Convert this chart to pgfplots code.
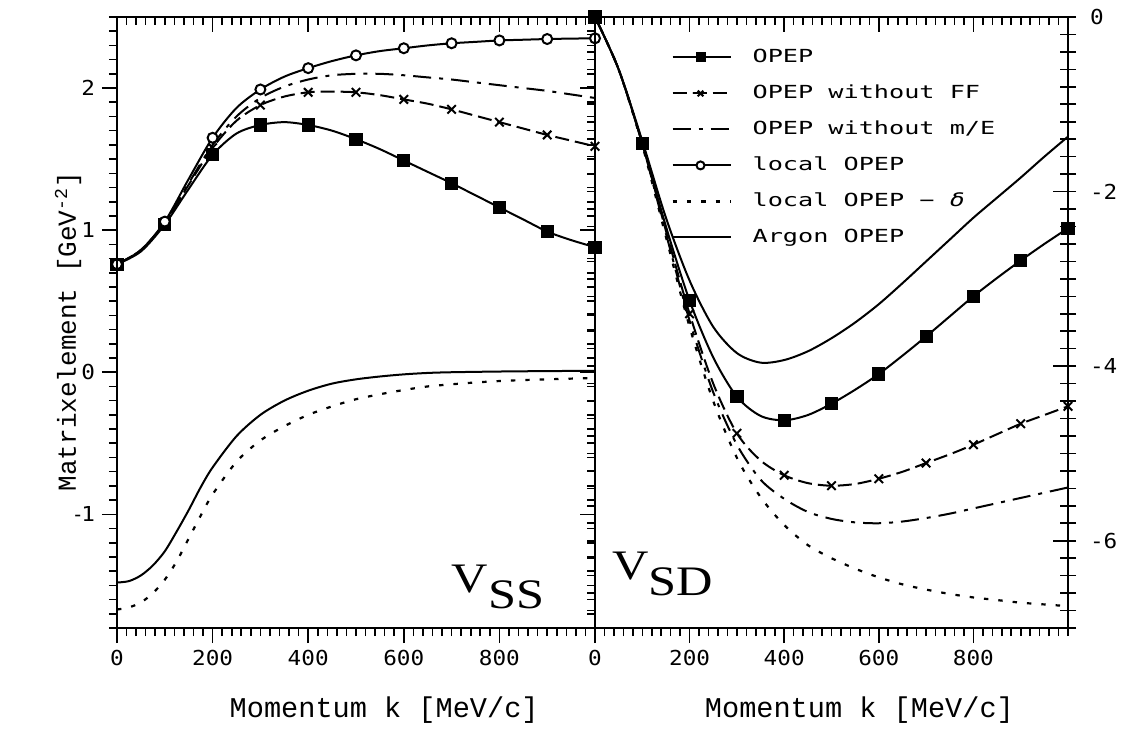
\documentclass[border=0pt]{standalone}
\usepackage{pgfplots}
\pgfplotsset{compat=1.18}
\usepackage{fontspec}
\setmainfont{Liberation Sans}
\newfontfamily\tickfont[FakeStretch=1.1]{DejaVu Sans Mono}
\newfontfamily\legfont[FakeStretch=1.4]{DejaVu Sans Mono}
\newfontfamily\labfont{Liberation Mono}
\newfontfamily\narrowsans{Liberation Sans}
\newfontfamily\vfont[FakeStretch=1.2]{Liberation Serif}
\begin{document}
\begin{tikzpicture}
\path[use as bounding box] (-58.5pt,-50.5pt) rectangle (504.5pt,314pt);
\pgfplotsset{
 common/.style={scale only axis, height=305.5pt, xmin=0, xmax=1000,
   axis line style={line width=1pt}, tick style={line width=0.8pt, black},
   major tick length=7.5pt, minor tick length=4pt,
   xtick={0,200,400,600,800}, minor xtick={0,20,...,1000},
   ticklabel style={font=\tickfont\fontsize{10.3}{12}\selectfont},
   clip=false},
 leftax/.style={common, width=239pt, ymin=-1.8, ymax=2.5, ytick={-1,0,1,2},
   minor ytick={-1.8,-1.7,...,2.45}, at={(0pt,0pt)}, anchor=south west},
 rightax/.style={common, width=236.5pt, ymin=-7, ymax=0, ytick={-6,-4,-2,0},
   minor ytick={-7,-6.8,...,0.05}, at={(239pt,0pt)}, anchor=south west},
 opep/.style={black, line width=1pt, smooth, mark=square*, mark size=2.8pt, mark repeat=2},
 ff/.style={black, line width=1pt, smooth, dash pattern=on 7pt off 3pt, mark=x, mark size=3pt, mark repeat=2, mark options={solid}},
 me/.style={black, line width=1pt, smooth, dash pattern=on 9pt off 4pt on 2pt off 4pt},
 loc/.style={black, line width=1pt, smooth, mark=*, mark size=2.5pt, mark repeat=2, mark options={solid, fill=white}},
 del/.style={black, line width=1.1pt, smooth, dash pattern=on 2.2pt off 5pt},
 arg/.style={black, line width=1pt, smooth},
}
% ---------------- left panel V_SS ----------------
\begin{axis}[leftax, tick align=outside, xtick pos=lower, ytick pos=lower,
  xticklabels={0,200,400,600,800}, yticklabels={{\narrowsans-}1,0,1,2},
  xlabel={Momentum k [MeV/c]}, ylabel={Matrixelement [GeV\textsuperscript{-2}]},
  xlabel style={font=\labfont\fontsize{14.3}{17}\selectfont, at={(axis description cs:0.559,-0.134)}, anchor=center},
  ylabel style={font=\labfont\fontsize{13}{16}\selectfont, at={(axis description cs:-0.1025,0.485)}, anchor=center}]
\addplot[opep] coordinates {(0,0.76)(50,0.85)(100,1.04)(150,1.29)(200,1.53)(250,1.68)(300,1.74)(350,1.76)(400,1.74)(450,1.70)(500,1.64)(550,1.57)(600,1.49)(650,1.41)(700,1.33)(750,1.245)(800,1.16)(850,1.075)(900,0.99)(950,0.93)(1000,0.88)};
\addplot[ff] coordinates {(0,0.76)(50,0.86)(100,1.05)(150,1.32)(200,1.58)(250,1.77)(300,1.88)(350,1.94)(400,1.97)(450,1.975)(500,1.97)(550,1.95)(600,1.92)(650,1.89)(700,1.85)(750,1.805)(800,1.76)(850,1.715)(900,1.67)(950,1.63)(1000,1.59)};
\addplot[me] coordinates {(0,0.76)(50,0.86)(100,1.05)(150,1.33)(200,1.60)(250,1.80)(300,1.93)(350,2.01)(400,2.06)(450,2.09)(500,2.10)(550,2.10)(600,2.09)(650,2.075)(700,2.06)(750,2.04)(800,2.02)(850,2.0)(900,1.98)(950,1.955)(1000,1.93)};
\addplot[loc] coordinates {(0,0.76)(50,0.86)(100,1.06)(150,1.36)(200,1.65)(250,1.86)(300,1.99)(350,2.08)(400,2.14)(450,2.19)(500,2.23)(550,2.26)(600,2.28)(650,2.30)(700,2.315)(750,2.325)(800,2.335)(850,2.34)(900,2.345)(950,2.348)(1000,2.35)};
\addplot[del] coordinates {(0,-1.67)(25,-1.655)(50,-1.62)(75,-1.555)(100,-1.46)(125,-1.33)(150,-1.17)(175,-1.01)(200,-0.86)(250,-0.63)(300,-0.48)(350,-0.38)(400,-0.30)(450,-0.24)(500,-0.19)(550,-0.155)(600,-0.125)(650,-0.10)(700,-0.085)(750,-0.072)(800,-0.062)(850,-0.055)(900,-0.05)(950,-0.045)(1000,-0.04)};
\addplot[arg] coordinates {(0,-1.48)(25,-1.47)(50,-1.43)(75,-1.36)(100,-1.26)(125,-1.12)(150,-0.97)(175,-0.81)(200,-0.67)(250,-0.45)(300,-0.30)(350,-0.20)(400,-0.13)(450,-0.08)(500,-0.05)(550,-0.03)(600,-0.015)(650,-0.005)(700,0.0)(800,0.005)(900,0.008)(1000,0.01)};
\node[anchor=base west, font=\vfont\fontsize{21}{24}\selectfont, inner sep=0pt] at (axis cs:700,-1.55) {V\raisebox{-8pt}{SS}};
\end{axis}
\begin{axis}[leftax, tick align=inside, xtick pos=upper, ytick pos=upper,
  xticklabels={}, yticklabels={}]
\end{axis}
% ---------------- right panel V_SD ----------------
\begin{axis}[rightax, tick align=outside, xtick pos=lower, ymajorticks=false, yminorticks=false,
  xticklabels={0,200,400,600,800},
  xlabel={Momentum k [MeV/c]},
  xlabel style={font=\labfont\fontsize{14.3}{17}\selectfont, at={(axis description cs:0.559,-0.134)}, anchor=center},
  legend image code/.code={\draw[mark repeat=2,mark phase=2,#1,mark size=2pt] plot coordinates {(0pt,0pt) (14pt,0pt) (29pt,0pt)};},
  legend style={at={(rel axis cs:0,1)}, anchor=north west, xshift=38pt, yshift=-14pt,
    draw=none, fill=none, font=\legfont\fontsize{9}{11}\selectfont, row sep=6pt, inner sep=0pt,
    nodes={inner sep=1.5pt, text height=7pt, text depth=2pt},
    /tikz/every odd column/.append style={column sep=9pt}},
  legend cell align=left]
\addplot[opep] coordinates {(0,0)(50,-0.6)(100,-1.45)(150,-2.4)(200,-3.25)(250,-3.9)(300,-4.35)(350,-4.57)(400,-4.62)(450,-4.56)(500,-4.43)(550,-4.27)(600,-4.09)(650,-3.88)(700,-3.66)(750,-3.43)(800,-3.2)(850,-2.99)(900,-2.79)(950,-2.6)(1000,-2.42)};
\addlegendentry{OPEP}
\addplot[ff] coordinates {(0,0)(50,-0.6)(100,-1.45)(150,-2.45)(200,-3.4)(250,-4.2)(300,-4.77)(350,-5.08)(400,-5.25)(450,-5.34)(500,-5.37)(550,-5.35)(600,-5.29)(650,-5.21)(700,-5.11)(750,-5.01)(800,-4.9)(850,-4.78)(900,-4.66)(950,-4.56)(1000,-4.46)};
\addlegendentry{OPEP without FF}
\addplot[me] coordinates {(0,0)(50,-0.6)(100,-1.45)(150,-2.48)(200,-3.48)(250,-4.3)(300,-4.9)(350,-5.3)(400,-5.52)(450,-5.67)(500,-5.75)(550,-5.79)(600,-5.8)(650,-5.78)(700,-5.74)(750,-5.69)(800,-5.63)(850,-5.57)(900,-5.51)(950,-5.45)(1000,-5.39)};
\addlegendentry{OPEP without m/E}
\addlegendimage{loc}
\addlegendentry{local OPEP}
\addplot[del] coordinates {(0,0)(50,-0.6)(100,-1.47)(150,-2.52)(200,-3.55)(250,-4.4)(300,-5.05)(350,-5.5)(400,-5.82)(450,-6.05)(500,-6.2)(550,-6.32)(600,-6.42)(650,-6.5)(700,-6.56)(750,-6.61)(800,-6.65)(850,-6.68)(900,-6.71)(950,-6.73)(1000,-6.75)};
\addlegendentry{local OPEP − \textit{δ}}
\addplot[arg] coordinates {(0,0)(50,-0.6)(100,-1.42)(150,-2.3)(200,-3.02)(250,-3.55)(300,-3.85)(350,-3.96)(400,-3.93)(450,-3.83)(500,-3.68)(550,-3.5)(600,-3.29)(650,-3.05)(700,-2.8)(750,-2.55)(800,-2.3)(850,-2.07)(900,-1.84)(950,-1.6)(1000,-1.37)};
\addlegendentry{Argon OPEP}
\node[anchor=base west, font=\vfont\fontsize{21}{24}\selectfont, inner sep=0pt] at (axis cs:36,-6.45) {V\raisebox{-8pt}{SD}};
\end{axis}
\begin{axis}[rightax, tick align=inside, xtick pos=upper, ytick pos=upper, yticklabel pos=upper,
  xticklabels={}, yticklabels={-6,-4,-2,0}, yticklabel style={xshift=7.5pt}]
\end{axis}
\end{tikzpicture}
\end{document}
